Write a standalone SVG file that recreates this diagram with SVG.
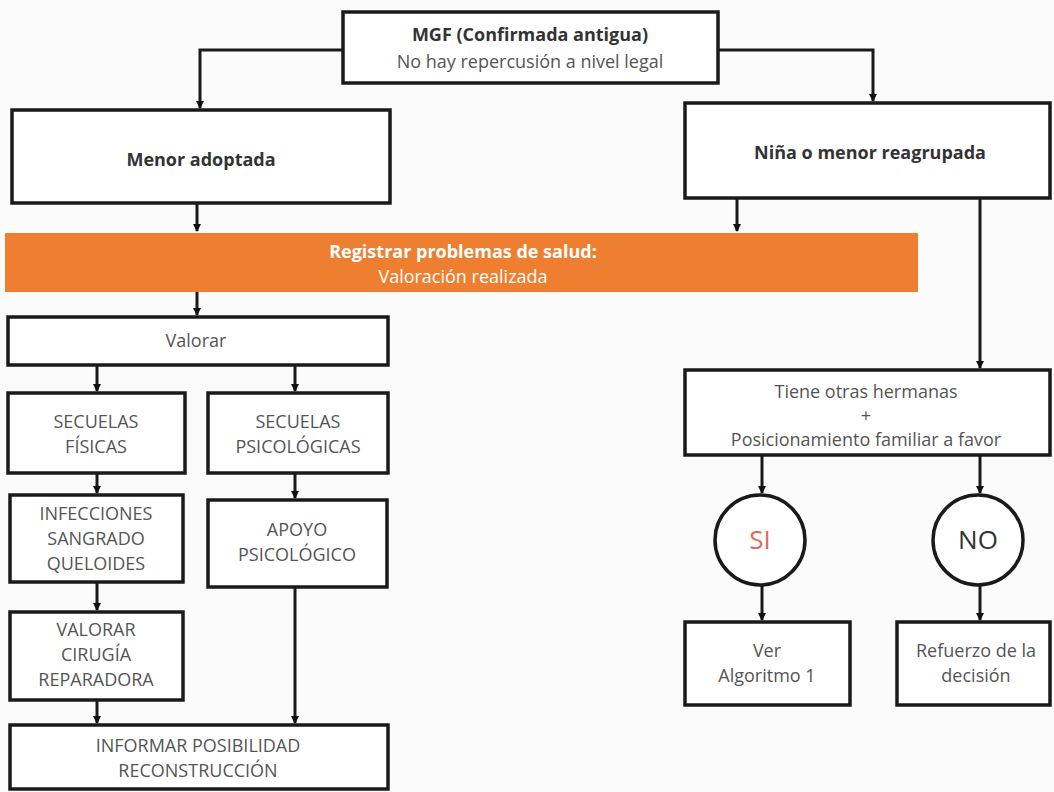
<svg xmlns="http://www.w3.org/2000/svg" width="1054" height="792" viewBox="0 0 1054 792">
<defs>
<marker id="ah" markerWidth="8" markerHeight="8" refX="7" refY="4" orient="auto" markerUnits="userSpaceOnUse">
<path d="M0,0 L8,4 L0,8 z" fill="#111"/>
</marker>
<style>
.box{fill:#fff;stroke:#1a1a1a;stroke-width:3.5}
.ln{fill:none;stroke:#1a1a1a;stroke-width:3}
.t{font-family:"Open Sans","Liberation Sans",sans-serif;font-size:18px;fill:#555;text-anchor:middle}
.b{font-family:"Open Sans","Liberation Sans",sans-serif;font-size:18px;font-weight:bold;fill:#333;text-anchor:middle}
.w{font-family:"Open Sans","Liberation Sans",sans-serif;font-size:18px;fill:#fff;text-anchor:middle}
</style>
</defs>
<rect width="1054" height="792" fill="#fbfbfb"/>
<g id="connectors">
<path class="ln" d="M343,50 H200 V108" marker-end="url(#ah)"/>
<path class="ln" d="M718,50 H873 V101" marker-end="url(#ah)"/>
<path class="ln" d="M197,203 V231" marker-end="url(#ah)"/>
<path class="ln" d="M737,198 V231" marker-end="url(#ah)"/>
<path class="ln" d="M980,198 V368" marker-end="url(#ah)"/>
<path class="ln" d="M197,292 V315" marker-end="url(#ah)"/>
<path class="ln" d="M97,365 V391" marker-end="url(#ah)"/>
<path class="ln" d="M295,365 V391" marker-end="url(#ah)"/>
<path class="ln" d="M97,473 V493" marker-end="url(#ah)"/>
<path class="ln" d="M295,473 V498" marker-end="url(#ah)"/>
<path class="ln" d="M97,582 V610" marker-end="url(#ah)"/>
<path class="ln" d="M97,700 V723" marker-end="url(#ah)"/>
<path class="ln" d="M295,587 V723" marker-end="url(#ah)"/>
<path class="ln" d="M762,455 V493" marker-end="url(#ah)"/>
<path class="ln" d="M980,455 V493" marker-end="url(#ah)"/>
<path class="ln" d="M762,585 V620" marker-end="url(#ah)"/>
<path class="ln" d="M980,585 V620" marker-end="url(#ah)"/>
</g>
<g id="mgf">
<rect class="box" x="343" y="12" width="375" height="71"/>
<text class="b" x="530" y="41">MGF (Confirmada antigua)</text>
<text class="t" x="530" y="68">No hay repercusión a nivel legal</text>
</g>
<g id="menor-adoptada">
<rect class="box" x="12" y="110" width="378" height="93"/>
<text class="b" x="201" y="166">Menor adoptada</text>
</g>
<g id="nina-reagrupada">
<rect class="box" x="685" y="103" width="365" height="95"/>
<text class="b" x="870" y="159">Niña o menor reagrupada</text>
</g>
<g id="registrar">
<rect x="5" y="233" width="913" height="59" fill="#ef7f30"/>
<text class="w" x="463" y="258" font-weight="bold">Registrar problemas de salud:</text>
<text class="w" x="463" y="283">Valoración realizada</text>
</g>
<g id="valorar">
<rect class="box" x="8" y="317" width="380" height="48"/>
<text class="t" x="196" y="347">Valorar</text>
</g>
<g id="secuelas-fisicas">
<rect class="box" x="8" y="393" width="177" height="80"/>
<text class="t" x="96" y="428">SECUELAS</text>
<text class="t" x="96" y="453">FÍSICAS</text>
</g>
<g id="secuelas-psicologicas">
<rect class="box" x="208" y="393" width="180" height="80"/>
<text class="t" x="298" y="428">SECUELAS</text>
<text class="t" x="298" y="453">PSICOLÓGICAS</text>
</g>
<g id="infecciones">
<rect class="box" x="10" y="495" width="173" height="87"/>
<text class="t" x="96" y="520">INFECCIONES</text>
<text class="t" x="96" y="545">SANGRADO</text>
<text class="t" x="96" y="570">QUELOIDES</text>
</g>
<g id="apoyo">
<rect class="box" x="208" y="500" width="179" height="87"/>
<text class="t" x="297" y="536">APOYO</text>
<text class="t" x="297" y="561">PSICOLÓGICO</text>
</g>
<g id="valorar-cirugia">
<rect class="box" x="10" y="612" width="173" height="88"/>
<text class="t" x="96" y="636">VALORAR</text>
<text class="t" x="96" y="661">CIRUGÍA</text>
<text class="t" x="96" y="686">REPARADORA</text>
</g>
<g id="informar">
<rect class="box" x="10" y="725" width="378" height="64"/>
<text class="t" x="198" y="752">INFORMAR POSIBILIDAD</text>
<text class="t" x="198" y="777">RECONSTRUCCIÓN</text>
</g>
<g id="tiene">
<rect class="box" x="685" y="370" width="365" height="85"/>
<text class="t" x="866" y="398">Tiene otras hermanas</text>
<text class="t" x="866" y="422">+</text>
<text class="t" x="866" y="446">Posicionamiento familiar a favor</text>
</g>
<g id="si">
<circle cx="760" cy="540" r="45" fill="#fff" stroke="#1a1a1a" stroke-width="3.5"/>
<text class="t" x="760" y="549" style="fill:#e06a5c;font-size:26px">SI</text>
</g>
<g id="no">
<circle cx="978" cy="540" r="45" fill="#fff" stroke="#1a1a1a" stroke-width="3.5"/>
<text class="t" x="978" y="549" style="fill:#333;font-size:26px">NO</text>
</g>
<g id="ver-algoritmo">
<rect class="box" x="685" y="622" width="165" height="83"/>
<text class="t" x="767" y="657">Ver</text>
<text class="t" x="767" y="682">Algoritmo 1</text>
</g>
<g id="refuerzo">
<rect class="box" x="897" y="622" width="153" height="83"/>
<text class="t" x="976" y="657">Refuerzo de la</text>
<text class="t" x="976" y="682">decisión</text>
</g>
</svg>
